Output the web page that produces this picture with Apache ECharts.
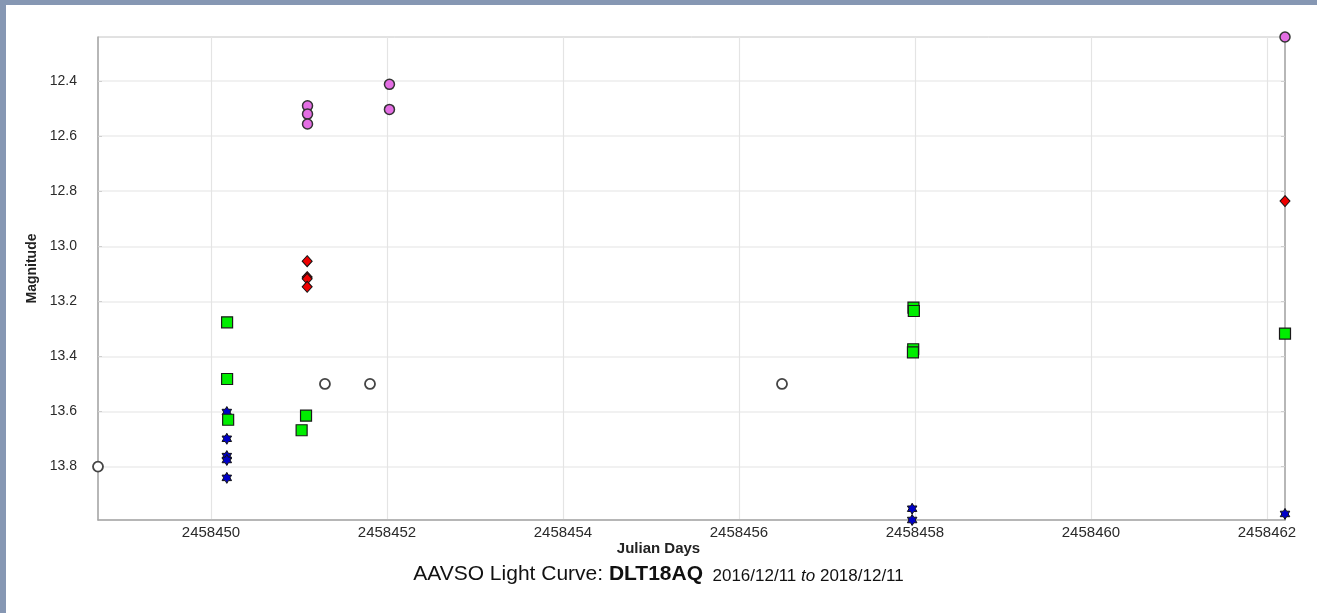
<!DOCTYPE html>
<html>
<head>
<meta charset="utf-8">
<script src="https://cdn.jsdelivr.net/npm/echarts@6/dist/echarts.min.js"></script>
<style>
  html, body { margin: 0; padding: 0; background: #ffffff; }
  #wrap { position: relative; width: 1317px; height: 613px; overflow: hidden; }
  #chart { position: absolute; left: 0; top: 0; width: 1317px; height: 613px; }
  .edge { position: absolute; background: #8697b3; }
</style>
</head>
<body>
<div id="wrap">
  <div id="chart"></div>
  <div class="edge" style="left:0;top:0;width:1317px;height:5px;"></div>
  <div class="edge" style="left:0;top:0;width:6px;height:613px;"></div>
</div>
<script>
// Julian Day tick marks and magnitude tick marks
const jdTicks = [2458450, 2458452, 2458454, 2458456, 2458458, 2458460, 2458462];
const magTicks = [12.4, 12.6, 12.8, 13.0, 13.2, 13.4, 13.6, 13.8];

// Observations by band: [Julian Day, magnitude]
const visual = [
  [2458448.716, 13.80], [2458451.295, 13.50], [2458451.807, 13.50], [2458456.489, 13.50]
];
const bandV = [
  [2458451.097, 12.490], [2458451.097, 12.520], [2458451.097, 12.556],
  [2458452.028, 12.412], [2458452.028, 12.503], [2458462.205, 12.240]
];
const bandR = [
  [2458451.093, 13.054], [2458451.093, 13.112], [2458451.093, 13.118],
  [2458451.093, 13.147], [2458462.205, 12.836]
];
const bandG = [
  [2458450.183, 13.276], [2458450.183, 13.482], [2458450.195, 13.630],
  [2458451.080, 13.615], [2458451.030, 13.668],
  [2458457.983, 13.223], [2458457.987, 13.235], [2458457.980, 13.374],
  [2458457.977, 13.385], [2458462.205, 13.317]
];
const bandB = [
  [2458450.180, 13.602], [2458450.180, 13.699], [2458450.180, 13.762],
  [2458450.180, 13.776], [2458450.180, 13.841],
  [2458457.968, 13.953], [2458457.968, 13.994], [2458462.205, 13.972]
];

const allPts = visual.concat(bandV, bandR, bandG, bandB);
const jdMin = Math.min(...allPts.map(p => p[0]));
const jdMax = Math.max(...allPts.map(p => p[0]));
const magMin = Math.min(...allPts.map(p => p[1]));
const magMax = Math.max(...allPts.map(p => p[1]));

const hexStar = 'path://M100,0 L128.9,50 L186.6,50 L157.7,100 L186.6,150 L128.9,150 L100,200 L71.1,150 L13.4,150 L42.3,100 L13.4,50 L71.1,50 Z';

const chart = echarts.init(document.getElementById('chart'), null, { renderer: 'canvas' });

const labelFont = { fontFamily: 'Liberation Sans, Arial, sans-serif', fontSize: 15, color: '#2a2a2a' };

chart.setOption({
  animation: false,
  backgroundColor: '#ffffff',
  grid: {
    left: 98, top: 37, right: 32, bottom: 93,
    show: true, borderColor: '#c4c4c4', borderWidth: 1
  },
  xAxis: {
    type: 'value',
    min: jdMin, max: jdMax,
    axisLine: { show: true, onZero: false, lineStyle: { color: '#a8a8a8', width: 1.5 } },
    axisTick: { show: false, customValues: jdTicks },
    axisLabel: Object.assign({
      customValues: jdTicks, margin: 5,
      formatter: v => String(Math.round(v))
    }, labelFont),
    splitLine: { show: true, lineStyle: { color: '#e4e4e4', width: 1.2 } }
  },
  yAxis: [{
    type: 'value',
    inverse: true,
    min: magMin, max: magMax,
    axisLine: { show: true, onZero: false, lineStyle: { color: '#a8a8a8', width: 1.5 } },
    axisTick: { show: true, inside: true, length: 4, customValues: magTicks, lineStyle: { color: '#cfcfcf' } },
    axisLabel: Object.assign({
      customValues: magTicks, margin: 21,
      formatter: v => v.toFixed(1)
    }, labelFont, { fontSize: 14 }),
    splitLine: { show: true, lineStyle: { color: '#ececec', width: 1.5 } },
    name: 'Magnitude',
    nameLocation: 'middle',
    nameGap: 58,
    nameRotate: 90,
    nameTextStyle: { fontFamily: 'Liberation Sans, Arial, sans-serif', fontSize: 14, fontWeight: 'bold', color: '#222222', padding: [0, 0, 0, 20] }
  }, {
    type: 'value',
    inverse: true,
    position: 'right',
    min: magMin, max: magMax,
    axisLine: { show: true, onZero: false, lineStyle: { color: '#a8a8a8', width: 1.5 } },
    axisTick: { show: true, inside: true, length: 4, customValues: magTicks, lineStyle: { color: '#cfcfcf' } },
    axisLabel: { show: false },
    splitLine: { show: false }
  }],
  graphic: [{
    type: 'text',
    left: 'center',
    top: 541,
    style: {
      text: 'Julian Days',
      font: 'bold 15px "Liberation Sans", Arial, sans-serif',
      fill: '#222222'
    }
  }, {
    type: 'text',
    left: 'center',
    top: 564,
    style: {
      text: '{a|AAVSO Light Curve: }{b|DLT18AQ}{c|  2016/12/11 }{d|to}{c| 2018/12/11}',
      rich: {
        a: { font: '21px "Liberation Sans", Arial, sans-serif', fill: '#111111', verticalAlign: 'bottom' },
        b: { font: 'bold 21px "Liberation Sans", Arial, sans-serif', fill: '#111111', verticalAlign: 'bottom' },
        c: { font: '17px "Liberation Sans", Arial, sans-serif', fill: '#111111', verticalAlign: 'bottom' },
        d: { font: 'italic 17px "Liberation Sans", Arial, sans-serif', fill: '#111111', verticalAlign: 'bottom' }
      }
    }
  }],
  series: [{
    name: 'Visual',
    type: 'scatter',
    data: visual,
    symbol: 'circle',
    symbolSize: 10,
    itemStyle: { color: '#ffffff', borderColor: '#444444', borderWidth: 1.8, opacity: 1 }
  }, {
    name: 'B',
    type: 'scatter',
    data: bandB,
    symbol: hexStar,
    symbolKeepAspect: true,
    symbolSize: 11,
    itemStyle: { color: '#0000c8', borderColor: '#111111', borderWidth: 1, opacity: 1 }
  }, {
    name: 'TG',
    type: 'scatter',
    data: bandG,
    symbol: 'rect',
    symbolSize: 11,
    itemStyle: { color: '#00ee00', borderColor: '#1a1a1a', borderWidth: 1.2, opacity: 1 }
  }, {
    name: 'R',
    type: 'scatter',
    data: bandR,
    symbol: 'diamond',
    symbolSize: [10, 11],
    itemStyle: { color: '#ee0000', borderColor: '#111111', borderWidth: 1, opacity: 1 }
  }, {
    name: 'V',
    type: 'scatter',
    data: bandV,
    symbol: 'circle',
    symbolSize: 10,
    itemStyle: { color: '#e46ee4', borderColor: '#333333', borderWidth: 1.5, opacity: 1 }
  }]
});
</script>
</body>
</html>
